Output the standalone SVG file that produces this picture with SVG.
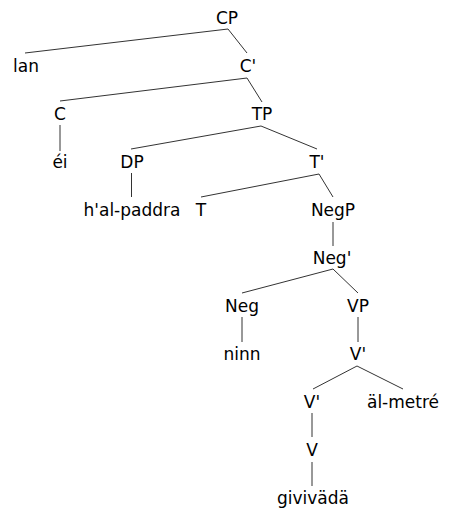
<svg xmlns="http://www.w3.org/2000/svg" width="454" height="514" viewBox="0 0 454 514">
<style>
text{font-family:"DejaVu Sans",sans-serif;font-size:17px;fill:#000;text-anchor:middle}
#edges line{stroke:#333;stroke-width:1}
</style>
<rect width="454" height="514" fill="#fff"/>
<g id="edges">
<line x1="228" y1="29" x2="25" y2="53"/>
<line x1="228" y1="29" x2="247" y2="53"/>
<line x1="247" y1="78" x2="60" y2="101"/>
<line x1="247" y1="78" x2="262" y2="102"/>
<line x1="60" y1="125" x2="60" y2="151"/>
<line x1="261" y1="126" x2="131" y2="149"/>
<line x1="261" y1="126" x2="317" y2="149"/>
<line x1="131.5" y1="173" x2="131.5" y2="197"/>
<line x1="319" y1="174" x2="201" y2="197"/>
<line x1="319" y1="174" x2="333" y2="197"/>
<line x1="333" y1="222" x2="333" y2="246"/>
<line x1="333" y1="269" x2="242" y2="293"/>
<line x1="333" y1="269" x2="358" y2="293"/>
<line x1="242" y1="317" x2="242" y2="342"/>
<line x1="358" y1="317" x2="358" y2="342"/>
<line x1="357" y1="366" x2="313" y2="389"/>
<line x1="357" y1="366" x2="403" y2="389"/>
<line x1="312" y1="413" x2="312" y2="437"/>
<line x1="312" y1="462" x2="312" y2="486"/>
</g>
<g id="n-CP"><text x="227" y="24">CP</text></g>
<g id="n-lan"><text x="26" y="72">lan</text></g>
<g id="n-C1"><text x="248" y="72">C'</text></g>
<g id="n-C"><text x="60" y="120">C</text></g>
<g id="n-TP"><text x="262" y="120">TP</text></g>
<g id="n-ei"><text x="60" y="168">éi</text></g>
<g id="n-DP"><text x="132" y="168">DP</text></g>
<g id="n-T1"><text x="317" y="168">T'</text></g>
<g id="n-halpaddra"><text x="132" y="216">h'al-paddra</text></g>
<g id="n-T"><text x="201" y="216">T</text></g>
<g id="n-NegP"><text x="333" y="216">NegP</text></g>
<g id="n-Neg1"><text x="332" y="264">Neg'</text></g>
<g id="n-Neg"><text x="242" y="312">Neg</text></g>
<g id="n-VP"><text x="358" y="312">VP</text></g>
<g id="n-ninn"><text x="242" y="360">ninn</text></g>
<g id="n-V1a"><text x="358" y="360">V'</text></g>
<g id="n-V1b"><text x="312" y="408">V'</text></g>
<g id="n-almetre"><text x="403" y="408">äl-metré</text></g>
<g id="n-V"><text x="312" y="456">V</text></g>
<g id="n-givivada"><text x="313" y="504">givivädä</text></g>
</svg>
